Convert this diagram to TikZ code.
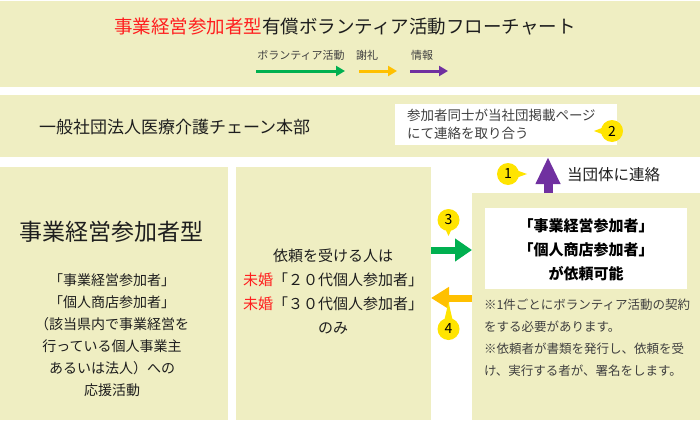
\documentclass[tikz,border=0pt]{standalone}
\usepackage{fontspec}
\setmainfont{Noto Sans CJK JP}
\usetikzlibrary{arrows.meta}
\definecolor{bg}{RGB}{239,238,194}
\definecolor{vgreen}{RGB}{0,176,80}
\definecolor{vorange}{RGB}{255,192,0}
\definecolor{vpurple}{RGB}{112,48,160}
\definecolor{badgey}{RGB}{255,228,0}
\definecolor{ink}{RGB}{30,30,30}
\definecolor{softink}{RGB}{64,64,64}
\definecolor{titlered}{RGB}{255,30,30}
\begin{document}
\begin{tikzpicture}[x=1pt,y=-1pt,
  panel/.style={fill=bg, draw=none, inner sep=0pt, outer sep=0pt, anchor=north west},
  whitebox/.style={fill=white, draw=none, inner sep=0pt, outer sep=0pt, anchor=north west},
  badge/.style={circle, fill=badgey, inner sep=0pt, minimum size=22pt, text=black, font=\fontsize{14}{14}\selectfont},
  txt/.style={inner sep=0pt, outer sep=0pt, text=ink},
  greenarrow/.style={draw=vgreen, line width=7pt, -{Triangle[length=17pt,width=22pt]}},
  orangearrow/.style={draw=vorange, line width=7pt, -{Triangle[length=18pt,width=21pt]}},
  purplearrow/.style={draw=vpurple, line width=9pt, -{Triangle[length=27pt,width=23pt]}},
  legendgreen/.style={draw=vgreen, line width=3pt, -{Triangle[length=9pt,width=10pt]}},
  legendorange/.style={draw=vorange, line width=3pt, -{Triangle[length=9pt,width=10pt]}},
  legendpurple/.style={draw=vpurple, line width=3pt, -{Triangle[length=9pt,width=10pt]}}
]
\useasboundingbox (0,0) rectangle (700,420);
\fill[white] (0,0) rectangle (700,420);

% panels
\node[panel, minimum width=700pt, minimum height=86pt] (top) at (0,1) {};
\node[panel, minimum width=700pt, minimum height=62pt] (band) at (0,95) {};
\node[panel, minimum width=228pt, minimum height=253pt] (leftp) at (0,167) {};
\node[panel, minimum width=195pt, minimum height=253pt] (midp) at (236,167) {};
\node[panel, minimum width=228pt, minimum height=227pt] (rightp) at (472,193) {};
\node[whitebox, minimum width=202pt, minimum height=81pt] (rbox) at (485,208) {};
\node[whitebox, minimum width=222pt, minimum height=41pt] (tbox) at (395,104) {};

% title
\node[txt, font=\fontsize{18.5}{18.5}\selectfont] (title) at (345,27)
  {\textcolor{titlered}{事業経営参加者型}有償ボランティア活動フローチャート};

% legend
\node[txt, text=softink, font=\fontsize{11}{11}\selectfont] (lg1) at (301,55) {ボランティア活動};
\node[txt, text=softink, font=\fontsize{11}{11}\selectfont] (lg2) at (367,55) {謝礼};
\node[txt, text=softink, font=\fontsize{11}{11}\selectfont] (lg3) at (422,55) {情報};
\coordinate (lg1a) at (256,71); \coordinate (lg1b) at (345,71);
\coordinate (lg2a) at (359,71); \coordinate (lg2b) at (397,71);
\coordinate (lg3a) at (410,71); \coordinate (lg3b) at (448,71);
\draw[legendgreen] (lg1a) -- (lg1b);
\draw[legendorange] (lg2a) -- (lg2b);
\draw[legendpurple] (lg3a) -- (lg3b);

% band
\node[txt, anchor=west, font=\fontsize{17}{17}\selectfont] (hq) at (39,127) {一般社団法人医療介護チェーン本部};
\node[txt, anchor=west, align=left, text=softink, font=\fontsize{13.5}{18}\selectfont] (tboxtext) at (407,124)
  {参加者同士が当社団掲載ページ\\にて連絡を取り合う};

% left panel
\node[txt, font=\fontsize{23}{23}\selectfont] (lefttitle) at (111,232) {事業経営参加者型};
\node[txt, align=center, font=\fontsize{14}{22}\selectfont] (lefttext) at (112,335)
  {「事業経営参加者」\\「個人商店参加者」\\（該当県内で事業経営を\\行っている個人事業主\\あるいは法人）への\\応援活動};

% middle panel
\node[txt, align=center, font=\fontsize{15}{24}\selectfont] (midtext) at (333,292)
  {依頼を受ける人は\\\textcolor{titlered}{未婚}「２０代個人参加者」\\\textcolor{titlered}{未婚}「３０代個人参加者」\\のみ};

% right panel
\node[txt, align=center, text=black, font=\bfseries\fontsize{15}{24}\selectfont] (rboxtext) at (586,250)
  {「事業経営参加者」\\「個人商店参加者」\\が依頼可能};
\node[txt, anchor=north west, align=left, text=softink, font=\fontsize{12.5}{22}\selectfont] (notes) at (484,299)
  {※1件ごとにボランティア活動の契約\\をする必要があります。\\※依頼者が書類を発行し、依頼を受\\け、実行する者が、署名をします。};

% contact label
\node[txt, anchor=west, font=\fontsize{15.5}{15.5}\selectfont] (contact) at (567,175) {当団体に連絡};

% arrows
\draw[greenarrow] (midp.east |- 0,250) -- (rightp.west |- 0,250);
\draw[orangearrow] (rightp.west |- 0,298) -- (midp.east |- 0,298);
\draw[purplearrow] (rightp.north -| 548,0) -- (band.south -| 548,0);

% badges
\fill[badgey] (513,169) -- (527,174) -- (513,179) -- cycle;
\node[badge] (b1) at (508,174) {1};
\fill[badgey] (607,126) -- (594,131) -- (607,136) -- cycle;
\node[badge] (b2) at (612,131) {2};
\fill[badgey] (443.5,225) -- (448.5,236) -- (453.5,225) -- cycle;
\node[badge] (b3) at (448.5,220) {3};
\fill[badgey] (443.5,324) -- (448.5,302) -- (453.5,324) -- cycle;
\node[badge] (b4) at (448.5,329) {4};
\end{tikzpicture}
\end{document}
